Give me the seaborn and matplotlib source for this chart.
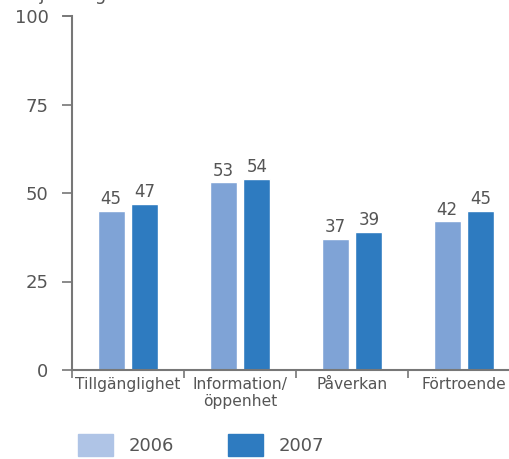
import matplotlib
matplotlib.use('Agg')

import matplotlib.pyplot as plt
import matplotlib.patches as mpatches
import pandas as pd
import seaborn as sns

categories = ["Tillgänglighet", "Information/\nöppenhet", "Påverkan", "Förtroende"]
years = ["2006", "2007"]
values_2006 = [45, 53, 37, 42]
values_2007 = [47, 54, 39, 45]

bar_colors = ["#7FA3D6", "#2E7BC0"]
legend_colors = ["#AFC4E6", "#2E7BC0"]
grey = "#555555"

df = pd.DataFrame({
    "kategori": categories * 2,
    "år": [years[0]] * 4 + [years[1]] * 4,
    "värde": values_2006 + values_2007,
})

sns.set_theme(style="white")
plt.rcParams['font.family'] = ['DejaVu Sans']

fig = plt.figure(figsize=(5.1, 4.59), dpi=100)
ax = fig.add_axes([72 / 510, 89 / 459, 438 / 510, 354 / 459])

sns.barplot(data=df, x="kategori", y="värde", hue="år", palette=bar_colors,
            saturation=1, width=0.6, gap=0.2, legend=False, ax=ax)

for cont in ax.containers:
    ax.bar_label(cont, fontsize=12, color=grey, padding=2)

ax.set_xlim(-0.5, -0.5 + 438 / 112)
ax.set_ylim(0, 100)
ax.set_yticks([0, 25, 50, 75, 100])
ax.tick_params(axis='y', direction='out', length=7, width=1.2, color="#777777",
               labelsize=13, labelcolor=grey, pad=10, left=True)
ax.set_xticks([-0.5, 0.5, 1.5, 2.5], minor=True)
ax.tick_params(axis='x', which='minor', direction='out', length=6, width=1.2,
               color="#777777", bottom=True)
ax.tick_params(axis='x', which='major', length=0, labelsize=11.2,
               labelcolor=grey, pad=5)
ax.set_xlabel("")
ax.set_ylabel("")

for side in ["top", "right"]:
    ax.spines[side].set_visible(False)
for side in ["left", "bottom"]:
    ax.spines[side].set_color("#777777")
    ax.spines[side].set_linewidth(1.5)

# tiny cap at 100 like the reference
ax.plot([-0.58, -0.5], [100, 100], color="#777777", lw=1.2, clip_on=False)

# y-axis title, mostly cut off above the figure as in the reference
fig.text(15 / 510, 1 - 0.5 / 459, "Nöjdhetsgrad", fontsize=13, color=grey,
         ha='left', va='baseline')

# legend
handles = [mpatches.Patch(color=c, label=y) for c, y in zip(legend_colors, years)]
fig.legend(handles=handles, loc='lower left', bbox_to_anchor=(62 / 510, -13 / 459),
           ncol=2, frameon=False, fontsize=13, handlelength=1.9, handleheight=1.5,
           handletextpad=0.9, columnspacing=3.0, labelcolor=grey)

fig.savefig("out.png", dpi=100)
